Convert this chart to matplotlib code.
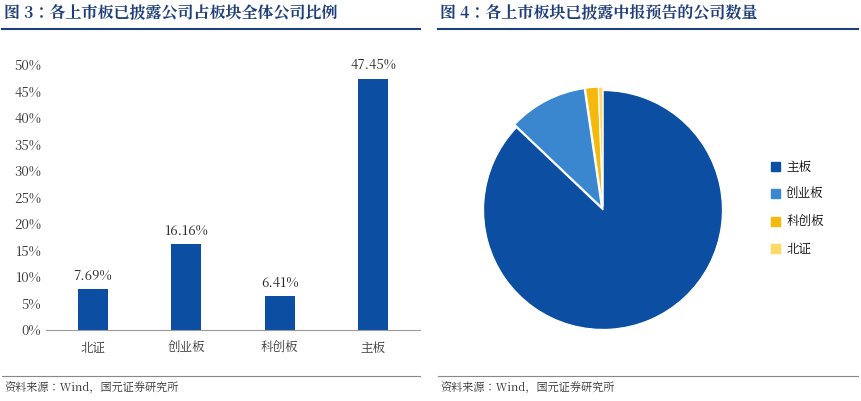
import matplotlib
matplotlib.use("Agg")
import matplotlib.pyplot as plt
from matplotlib import font_manager as fm
from matplotlib.lines import Line2D

cjk = [f.name for f in fm.fontManager.ttflist if "CJK" in f.name]
pref = [n for n in cjk if n.endswith("SC")] or cjk
plt.rcParams["font.family"] = (pref[:1] if pref else []) + ["Noto Sans CJK SC", "DejaVu Sans"]

bar_cats = ["北证", "创业板", "科创板", "主板"]
bar_vals = [7.69, 16.16, 6.41, 47.45]
y_ticks = [0, 5, 10, 15, 20, 25, 30, 35, 40, 45, 50]

pie_cats = ["主板", "创业板", "科创板", "北证"]
pie_vals = [87.1, 10.6, 1.7, 0.6]
pie_colors = ["#0b4ea2", "#3a87cf", "#f5b80c", "#ffd966"]

W, H = 861, 401
fig = plt.figure(figsize=(W/100, H/100), dpi=100)
title_c = "#1f3f7a"

def fx(x): return x / W
def fy(y): return 1 - y / H

fig.text(fx(4), fy(14), "图 3：各上市板已披露公司占板块全体公司比例", fontsize=11.5, fontweight="bold", color=title_c, va="center")
fig.text(fx(440), fy(14), "图 4：各上市板块已披露中报预告的公司数量", fontsize=11.5, fontweight="bold", color=title_c, va="center")
for x0, x1 in [(2, 420), (438, 858)]:
    fig.add_artist(Line2D([fx(x0), fx(x1)], [fy(29), fy(29)], color=title_c, lw=1.5))
    fig.add_artist(Line2D([fx(x0), fx(x1)], [fy(376), fy(376)], color="#888888", lw=0.8))
fig.text(fx(4), fy(389), "资料来源：Wind，国元证券研究所", fontsize=8, color="#333333", va="center")
fig.text(fx(440), fy(389), "资料来源：Wind，国元证券研究所", fontsize=8, color="#333333", va="center")

ax = fig.add_axes([fx(46), fy(330), fx(420) - fx(46), fy(65) - fy(330)])
xs = range(len(bar_cats))
ax.bar(xs, bar_vals, width=0.32, color="#0b4ea2")
for x, v in zip(xs, bar_vals):
    ax.text(x, v + 1.2, f"{v:.2f}%", ha="center", va="bottom", fontsize=9.5, color="#222222")
ax.set_ylim(0, 50)
ax.set_xlim(-0.5, 3.5)
ax.set_yticks(y_ticks)
ax.set_yticklabels([f"{t}%" for t in y_ticks], fontsize=9.5, color="#333333")
ax.set_xticks(list(xs))
ax.set_xticklabels(bar_cats, fontsize=9, color="#333333")
for s in ["top", "right", "left"]:
    ax.spines[s].set_visible(False)
ax.spines["bottom"].set_color("#999999")
ax.tick_params(axis="y", length=0)
ax.tick_params(axis="x", length=0, pad=8)

pax = fig.add_axes([fx(480), fy(334), fx(726) - fx(480), fy(86) - fy(334)])
pax.pie(pie_vals, colors=pie_colors, startangle=90, counterclock=False, radius=1.0,
        explode=[0, 0.03, 0.03, 0.03], wedgeprops=dict(edgecolor="white", linewidth=0.8))
pax.set_xlim(-1.03, 1.03)
pax.set_ylim(-1.03, 1.03)
pax.set_aspect("equal")
handles = [plt.Rectangle((0, 0), 1, 1, color=c) for c in pie_colors]
fig.legend(handles, pie_cats, loc="center left", bbox_to_anchor=(fx(760), fy(208)),
           frameon=False, fontsize=9, handlelength=0.7, handleheight=0.7,
           labelspacing=1.1, handletextpad=0.5)

fig.savefig("out.png", dpi=100)
